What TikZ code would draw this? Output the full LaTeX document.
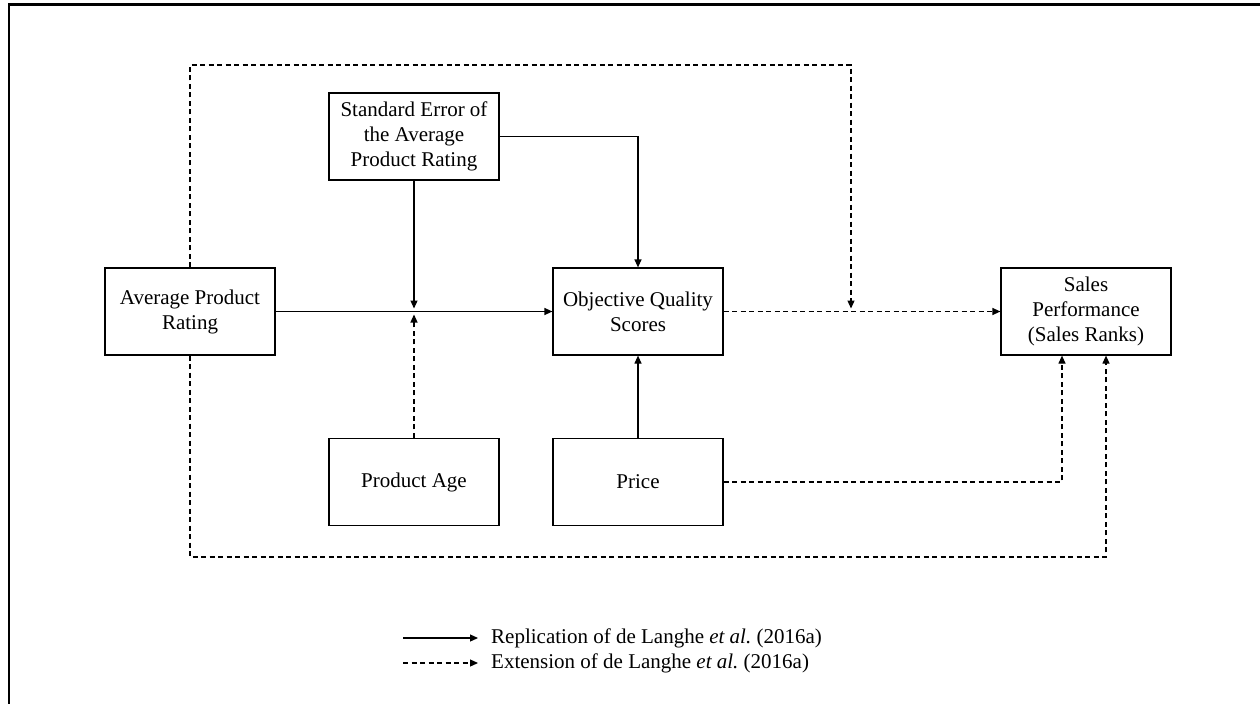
\documentclass[tikz,border=0pt]{standalone}
\usepackage{fontspec}
\setmainfont{Liberation Serif}
\usetikzlibrary{arrows.meta}
\tikzset{
  box/.style={draw, line width=1.2pt, minimum width=170pt, minimum height=87pt, inner sep=0pt, align=center, font=\fontsize{21pt}{25pt}\selectfont},
  conn/.style={line width=1.2pt, -{Triangle[length=8pt,width=7pt]}},
  dconn/.style={conn, dash pattern=on 5pt off 3.5pt},
  legtext/.style={anchor=west, inner sep=0pt, font=\fontsize{21pt}{25pt}\selectfont}
}
\begin{document}
\begin{tikzpicture}[x=1pt,y=-1pt]
\useasboundingbox (0,0) rectangle (1260,704);
% frame
\draw[line width=2.4pt] (1260,4.5) -- (9,4.5) -- (9,704);
% nodes
\node[box] (apr) at (190,311.5) {Average Product\\Rating};
\node[box] (se) at (414,136.5) {Standard Error of\\the Average\\Product Rating};
\node[box] (oqs) at (638,311.5) {Objective Quality\\Scores};
\node[box] (pa) at (414,482) {Product Age};
\node[box] (price) at (638,482) {Price};
\node[box] (sp) at (1086,311.5) {Sales\\Performance\\(Sales Ranks)};
% helper coordinates
\coordinate (mtop) at (414,308.5);
\coordinate (mbot) at (414,314.5);
\coordinate (ctop) at (851,65);
\coordinate (cmid) at (851,308.5);
\coordinate (cbot) at (1106,557);
% connectors
\draw[conn] (apr.east) -- (oqs.west);
\draw[conn] (se.south) -- (mtop);
\draw[dconn] (pa.north) -- (mbot);
\draw[conn] (se.east) -| (oqs.north);
\draw[conn] (price.north) -- (oqs.south);
\draw[dconn] (oqs.east) -- (sp.west);
\draw[dconn] (apr.north) |- (ctop) -- (cmid);
\draw[dconn] (price.east) -| ([xshift=-24pt]sp.south);
\draw[dconn] (apr.south) |- (cbot) -- ([xshift=20pt]sp.south);
% legend
\coordinate (l1s) at (403,638);
\coordinate (l1e) at (478,638);
\coordinate (l2s) at (403,663);
\coordinate (l2e) at (478,663);
\draw[conn] (l1s) -- (l1e);
\draw[dconn] (l2s) -- (l2e);
\node[legtext] (t1) at (491,638) {Replication of de Langhe \textit{et al.}\ (2016a)};
\node[legtext] (t2) at (491,663) {Extension of de Langhe \textit{et al.}\ (2016a)};
\end{tikzpicture}
\end{document}
